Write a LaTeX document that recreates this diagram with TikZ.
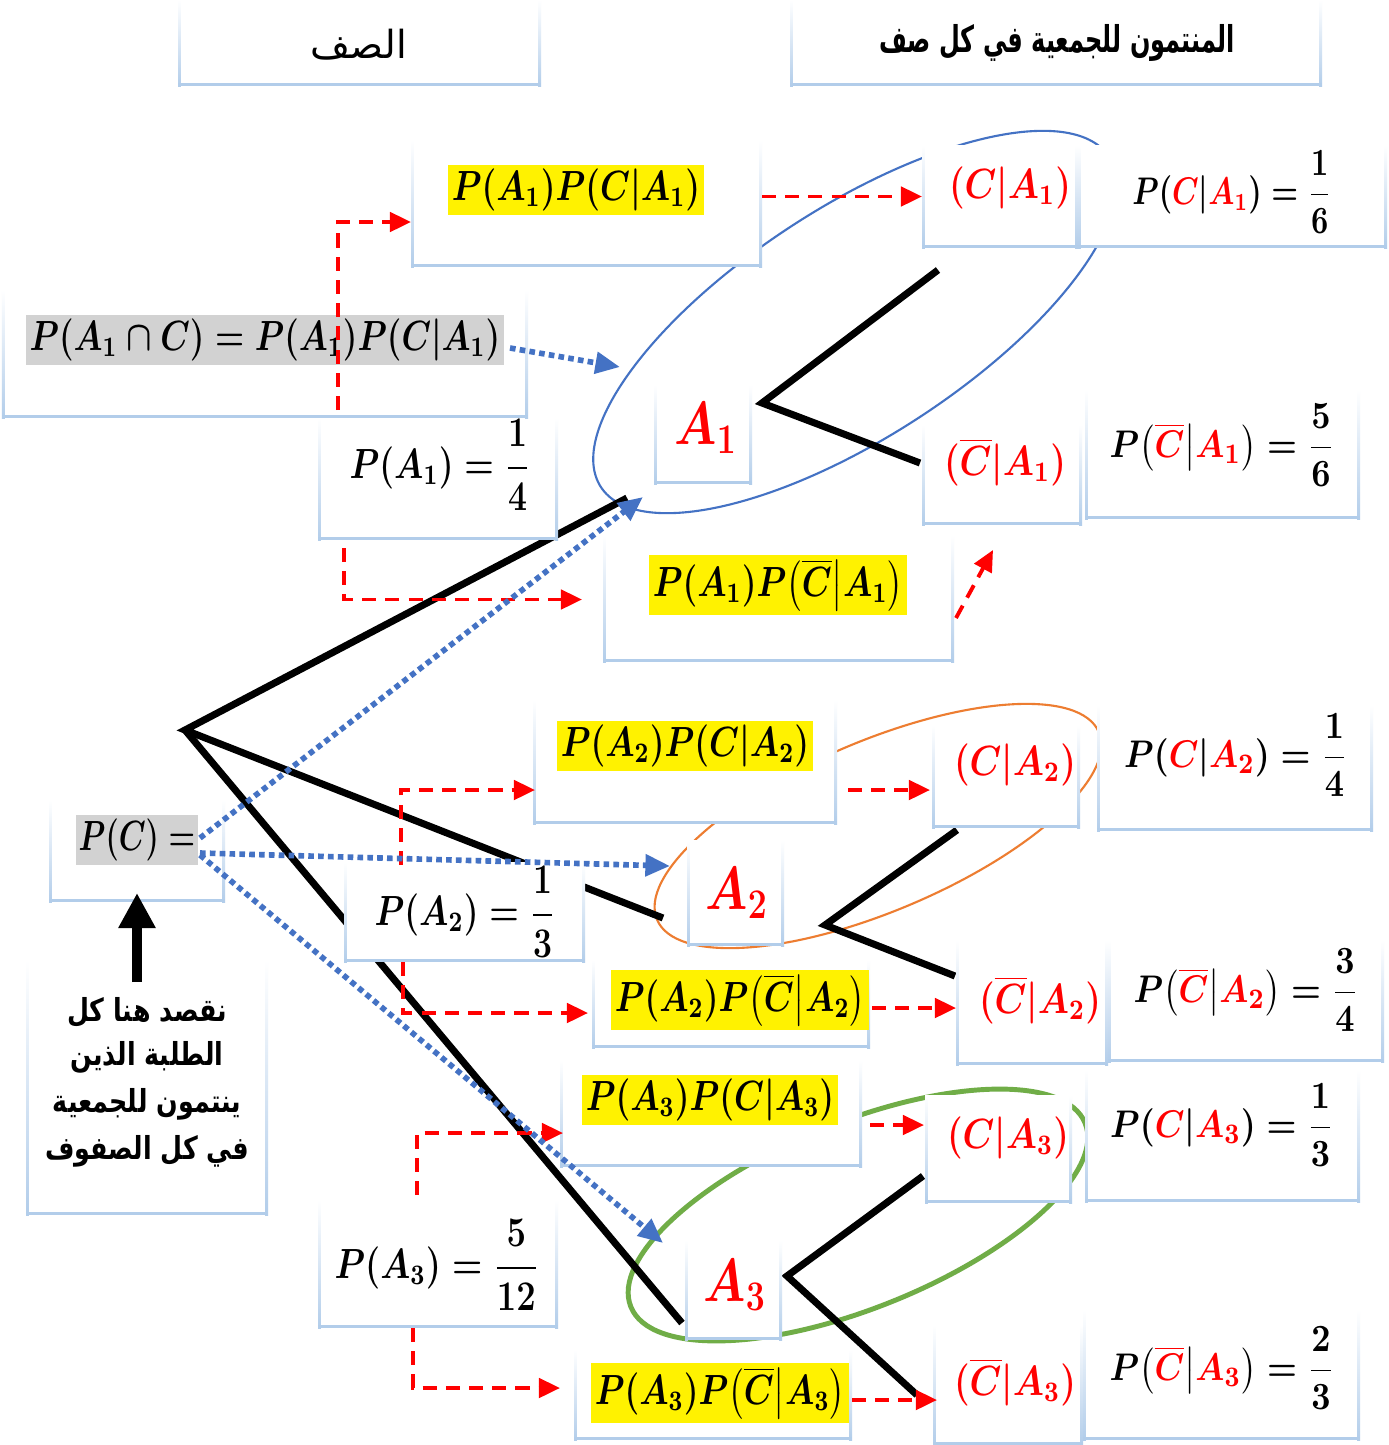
\documentclass[tikz,border=0pt]{standalone}
\usepackage{fontspec}
\usepackage{amsmath}
\TeXXeTstate=1
\newfontfamily\arabicfont[Script=Arabic]{DejaVu Sans}
\usetikzlibrary{arrows.meta,calc,fit}
\definecolor{fb}{RGB}{178,205,234}
\definecolor{dotblue}{RGB}{68,114,196}
\definecolor{ellor}{RGB}{237,125,49}
\definecolor{ellgr}{RGB}{112,173,71}
\definecolor{hlgray}{RGB}{210,210,210}
\newcommand{\rd}[1]{{\color{red}#1}}
% text node condensed horizontally: style, xscale, position, name, text
\newcommand{\tn}[5]{\begin{scope}[shift={(#3)}]\node[#1, transform shape, xscale=#2] (#4) at (0,0) {#5};\end{scope}}
\begin{document}
\begin{tikzpicture}[x=0.01cm,y=-0.01cm,
  bx/.style={inner sep=0pt, outer sep=0pt, fill=white},
  mt/.style={font=\fontsize{12}{14}\selectfont\boldmath, inner sep=1.2pt},
  ms/.style={font=\fontsize{11}{13}\selectfont\boldmath, inner sep=1.2pt},
  mss/.style={font=\fontsize{10.5}{12}\selectfont\boldmath, inner sep=1.2pt},
  bigA/.style={font=\fontsize{17}{20}\selectfont\boldmath, text=red},
  rt/.style={mt, text=red},
  hly/.style={mt, fill=yellow},
  hlg/.style={mt, fill=hlgray},
  arh/.style={font=\arabicfont\fontsize{11}{14}\selectfont},
  arhb/.style={font=\arabicfont\bfseries\fontsize{10.5}{13}\selectfont},
  arn/.style={font=\arabicfont\bfseries\fontsize{9}{12}\selectfont},
  rdash/.style={draw=red, line width=1.1pt, dash pattern=on 4pt off 2.6pt, -{Triangle[length=6pt,width=5.5pt]}},
  bdot/.style={draw=dotblue, line width=1.6pt, dash pattern=on 1.6pt off 1.2pt, -{Triangle[length=7pt,width=6pt]}},
  tree/.style={line width=2pt, black, line join=miter},
]
\useasboundingbox (0,0) rectangle (1389,1445);
\fill[white] (0,0) rectangle (1389,1445);

% ---------- tree coordinates ----------
\coordinate (root) at (185,730);
\coordinate (e1) at (627,498);
\coordinate (e2) at (663,918);
\coordinate (e3) at (682,1323);
\coordinate (f1) at (762,403);
\coordinate (f1u) at (938,270);
\coordinate (f1d) at (920,463);
\coordinate (f2) at (825,925);
\coordinate (f2u) at (957,830);
\coordinate (f2d) at (955,976);
\coordinate (f3) at (787,1276);
\coordinate (f3u) at (923,1176);
\coordinate (f3d) at (917,1395);

% ---------- ellipses ----------
\draw[dotblue, line width=0.6pt, rotate around={33:(855,322)}] (855,322) ellipse [x radius=303, y radius=115];
\draw[ellor, line width=0.6pt, rotate around={23:(878,826)}] (878,826) ellipse [x radius=240, y radius=85];
\draw[ellgr, line width=1.4pt, rotate around={22:(858,1215)}] (858,1215) ellipse [x radius=245, y radius=93];

% ---------- tree ----------
\draw[tree] (e1) -- (root) -- (e2);
\draw[tree] (root) -- (e3);
\draw[tree] (f1u) -- (f1) -- (f1d);
\draw[tree] (f2u) -- (f2) -- (f2d);
\draw[tree] (f3u) -- (f3) -- (f3d);

% ---------- boxes ----------
\node[bx, fit={(178,0) (541,86)}] (h1) {};
\node[bx, fit={(790,0) (1322,86)}] (h2) {};
\node[bx, fit={(411,140) (762,267)}] (y1) {};
\node[bx, fit={(922,145) (1078,248)}] (ca1) {};
\node[bx, fit={(1078,145) (1387,248)}] (pca1) {};
\node[bx, fit={(2,290) (528,418)}] (inter) {};
\node[bx, fit={(318,418) (558,540)}] (pa1) {};
\node[bx, fit={(654,385) (752,484)}] (a1) {};
\node[bx, fit={(922,425) (1082,525)}] (cba1) {};
\node[bx, fit={(1085,390) (1360,519)}] (pcba1) {};
\node[bx, fit={(603,535) (954,662)}] (y2) {};
\node[bx, fit={(533,700) (837,824)}] (y3) {};
\node[bx, fit={(932,725) (1080,828)}] (ca2) {};
\node[bx, fit={(1097,705) (1373,831)}] (pca2) {};
\node[bx, fit={(49,800) (225,902)}] (pc) {};
\node[bx, fit={(344,862) (585,962)}] (pa2) {};
\node[bx, fit={(687,840) (784,946)}] (a2) {};
\node[bx, fit={(956,940) (1108,1065)}] (cba2) {};
\node[bx, fit={(1108,940) (1384,1062)}] (pcba2) {};
\node[bx, fit={(592,960) (870,1048)}] (y4) {};
\node[bx, fit={(26,960) (268,1215)}] (note) {};
\node[bx, fit={(560,1060) (862,1167)}] (y5) {};
\node[bx, fit={(925,1095) (1072,1203)}] (ca3) {};
\node[bx, fit={(1085,1070) (1360,1202)}] (pca3) {};
\node[bx, fit={(318,1200) (558,1328)}] (pa3) {};
\node[bx, fit={(685,1240) (782,1340)}] (a3) {};
\node[bx, fit={(933,1325) (1083,1445)}] (cba3) {};
\node[bx, fit={(1083,1310) (1360,1440)}] (pcba3) {};
\node[bx, fit={(574,1350) (852,1440)}] (y6) {};

\foreach \n in {h1,h2,y1,ca1,pca1,inter,pa1,a1,cba1,pcba1,y2,y3,ca2,pca2,pc,pa2,a2,cba2,pcba2,y4,note,y5,ca3,pca3,pa3,a3,cba3,pcba3,y6}{
  \shade[top color=white, bottom color=fb] (\n.north west) rectangle ([xshift=0.8pt]\n.south west);
  \shade[top color=white, bottom color=fb] ([xshift=-0.8pt]\n.north east) rectangle (\n.south east);
  \fill[fb] (\n.south west) rectangle ([yshift=0.8pt]\n.south east);
}

% ---------- texts ----------
\tn{arh}{1}{359,45}{th1}{\beginR الصف\endR}
\tn{arhb}{0.65}{1057,43}{th2}{\beginR المنتمون للجمعية في كل صف\endR}

\tn{hly}{0.8}{576,190}{ty1}{$P(A_1)P(C|A_1)$}
\tn{rt}{0.85}{1010,188}{tca1}{$(C|A_1)$}
\tn{mss}{0.78}{1232,192}{tpca1}{$P(\rd{C}|\rd{A_1})=\dfrac{1}{6}$}
\tn{hlg}{0.79}{265,340}{tinter}{$P(A_1\cap C)=P(A_1)P(C|A_1)$}
\tn{mt}{0.8}{440,465}{tpa1}{$P(A_1)=\dfrac{1}{4}$}
\tn{bigA}{0.8}{706,428}{ta1}{$A_1$}
\tn{rt}{0.85}{1005,462}{tcba1}{$(\overline{C}|A_1)$}
\tn{ms}{0.87}{1222,445}{tpcba1}{$P\bigl(\rd{\overline{C}}\big|\rd{A_1}\bigr)=\dfrac{5}{6}$}
\tn{hly}{0.8}{778,585}{ty2}{$P(A_1)P\bigl(\overline{C}\big|A_1\bigr)$}

\tn{hly}{0.8}{685,746}{ty3}{$P(A_2)P(C|A_2)$}
\tn{rt}{0.85}{1015,765}{tca2}{$(C|A_2)$}
\tn{ms}{0.87}{1236,755}{tpca2}{$P(\rd{C}|\rd{A_2})=\dfrac{1}{4}$}
\tn{hlg}{0.72}{137,840}{tpc}{$P(C)=$}
\tn{mt}{0.8}{465,912}{tpa2}{$P(A_2)=\dfrac{1}{3}$}
\tn{bigA}{0.8}{737,893}{ta2}{$A_2$}
\tn{rt}{0.85}{1040,1000}{tcba2}{$(\overline{C}|A_2)$}
\tn{ms}{0.87}{1246,990}{tpcba2}{$P\bigl(\rd{\overline{C}}\big|\rd{A_2}\bigr)=\dfrac{3}{4}$}
\tn{hly}{0.8}{740,1000}{ty4}{$P(A_2)P\bigl(\overline{C}\big|A_2\bigr)$}

\tn{arn}{0.8}{147,1012}{tn1}{\beginR نقصد هنا كل\endR}
\tn{arn}{0.8}{147,1057}{tn2}{\beginR الطلبة الذين\endR}
\tn{arn}{0.8}{147,1104}{tn3}{\beginR ينتمون للجمعية\endR}
\tn{arn}{0.8}{147,1151}{tn4}{\beginR في كل الصفوف\endR}

\tn{hly}{0.8}{710,1100}{ty5}{$P(A_3)P(C|A_3)$}
\tn{rt}{0.85}{1008,1138}{tca3}{$(C|A_3)$}
\tn{ms}{0.87}{1222,1125}{tpca3}{$P(\rd{C}|\rd{A_3})=\dfrac{1}{3}$}
\tn{mt}{0.82}{437,1265}{tpa3}{$P(A_3)=\dfrac{5}{12}$}
\tn{bigA}{0.8}{735,1285}{ta3}{$A_3$}
\tn{rt}{0.85}{1015,1382}{tcba3}{$(\overline{C}|A_3)$}
\tn{ms}{0.87}{1222,1368}{tpcba3}{$P\bigl(\rd{\overline{C}}\big|\rd{A_3}\bigr)=\dfrac{2}{3}$}
\tn{hly}{0.8}{720,1393}{ty6}{$P(A_3)P\bigl(\overline{C}\big|A_3\bigr)$}

% ---------- red dashed arrows ----------
\draw[rdash] ($(pa1.north west)+(20,-8)$) |- ($(y1.north west)+(0,82)$);
\draw[rdash] ($(pa1.south west)+(26,8)$) |- ($(y2.west)+(-21,1)$);
\draw[rdash] (y1.east |- ca1.west) -- (ca1.west);
\draw[rdash] ($(y2.south east)+(2,-44)$) -- ($(cba1.south west)+(71,25)$);
\draw[rdash] ($(pa2.north west)+(57,3)$) |- ($(y3.south west)+(2,-34)$);
\draw[rdash] ($(pa2.south west)+(59,0)$) |- ($(y4.west)+(-4,9)$);
\draw[rdash] ($(y3.south east)+(11,-34)$) -- ($(ca2.west)+(-2,13.5)$);
\draw[rdash] ($(y4.east)+(2,4)$) -- ($(cba2.west)+(0,5.5)$);
\draw[rdash] ($(pa3.north west)+(99,-5)$) |- ($(y5.west)+(3,19.5)$);
\draw[rdash] ($(pa3.south west)+(95,0)$) |- ($(y6.west)+(-14,-7)$);
\draw[rdash] ($(y5.east)+(8,11.5)$) -- ($(ca3.north west)+(-1,30)$);
\draw[rdash] ($(y6.east)+(0,5)$) -- ($(cba3.west)+(4,15)$);

% ---------- blue dotted arrows ----------
\draw[bdot] ($(inter.east)+(-18,-6)$) -- ($(a1.north west)+(-34,-18)$);
\draw[bdot] ($(pc.east)+(-25,-13)$) -- ($(a1.south west)+(-11,13)$);
\draw[bdot] ($(pc.east)+(-25,2)$) -- ($(a2.west)+(-17,-27)$);
\draw[bdot] ($(pc.east)+(-25,4)$) -- ($(a3.north west)+(-22,3)$);

% ---------- big arrow ----------
\coordinate (upbase) at (137,982);
\draw[line width=3.1pt, -{Triangle[length=10pt,width=10pt]}] (upbase) -- (pc.south |- 0,893);
\end{tikzpicture}
\end{document}
